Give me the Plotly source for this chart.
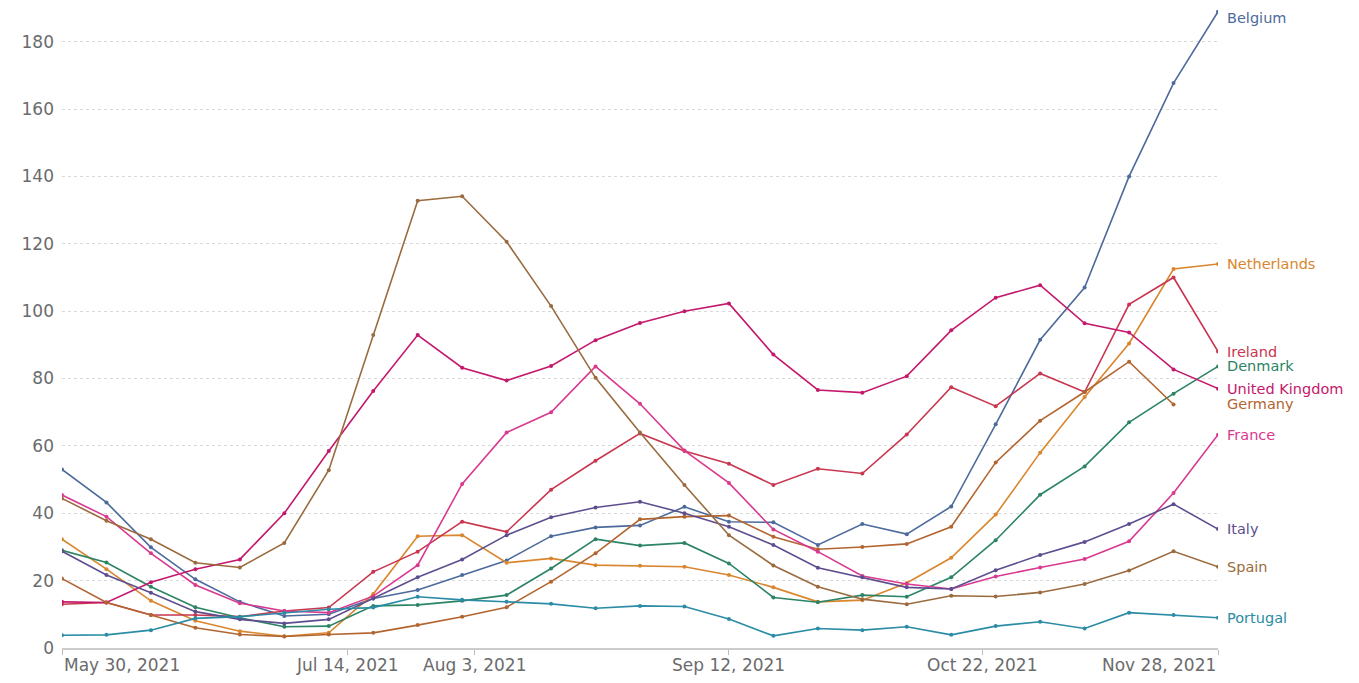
import pandas as pd
import plotly.graph_objects as go

dates = pd.date_range("2021-05-30", "2021-11-28", freq="7D")

belgium = [53, 43.2, 29.9, 20.4, 13.7, 9.5, 10.0, 14.7, 17.2, 21.7, 26.0, 33.2, 35.8, 36.4, 41.9, 37.5, 37.3, 30.6, 36.8, 33.8, 42.0, 66.4, 91.5, 107.0, 140.0, 167.7, 188.9]
netherlands = [32.3, 23.4, 14.0, 8.1, 5.0, 3.5, 4.5, 16.0, 33.2, 33.5, 25.3, 26.6, 24.6, 24.4, 24.1, 21.7, 18.0, 13.7, 14.2, 19.3, 26.8, 39.6, 58.0, 74.5, 90.4, 112.5, 114.0]
ireland = [13.0, 13.5, 9.8, 9.8, 9.3, 11.0, 12.0, 22.6, 28.6, 37.5, 34.5, 47.0, 55.6, 63.7, 58.5, 54.7, 48.4, 53.2, 51.8, 63.4, 77.4, 71.8, 81.5, 76.0, 102.0, 110.0, 88.0]
denmark = [29.0, 25.4, 18.2, 12.1, 9.0, 6.3, 6.5, 12.5, 12.8, 14.0, 15.7, 23.6, 32.3, 30.4, 31.2, 25.1, 15.0, 13.6, 15.7, 15.2, 21.0, 32.0, 45.5, 53.9, 67.0, 75.5, 83.6]
united_kingdom = [13.7, 13.5, 19.5, 23.4, 26.3, 40.0, 58.5, 76.3, 92.9, 83.2, 79.4, 83.7, 91.4, 96.5, 100.0, 102.3, 87.1, 76.6, 75.8, 80.7, 94.3, 104.0, 107.7, 96.4, 93.7, 82.7, 77.0]
germany = [20.6, 13.5, 9.8, 6.0, 4.0, 3.4, 4.0, 4.5, 6.8, 9.3, 12.1, 19.7, 28.1, 38.2, 39.0, 39.3, 33.0, 29.3, 30.0, 30.9, 36.0, 55.1, 67.5, 76.0, 85.0, 72.3, None]
france = [45.4, 39.0, 28.1, 18.7, 13.3, 11.0, 10.5, 15.4, 24.6, 48.7, 64.0, 70.0, 83.6, 72.5, 58.6, 49.0, 35.2, 28.6, 21.4, 19.0, 17.5, 21.2, 23.9, 26.4, 31.7, 46.0, 63.3]
italy = [28.7, 21.7, 16.4, 10.8, 8.5, 7.3, 8.5, 14.7, 21.0, 26.3, 33.5, 38.8, 41.7, 43.4, 40.0, 36.0, 30.6, 23.8, 21.0, 18.0, 17.5, 23.1, 27.6, 31.5, 36.8, 42.7, 35.3]
spain = [44.4, 37.8, 32.3, 25.3, 23.9, 31.2, 52.8, 92.9, 132.8, 134.1, 120.6, 101.5, 80.2, 64.0, 48.4, 33.5, 24.5, 18.2, 14.5, 13.0, 15.5, 15.3, 16.5, 19.0, 23.0, 28.7, 24.1]
portugal = [3.8, 3.9, 5.3, 8.8, 9.3, 10.5, 11.5, 12.0, 15.2, 14.3, 13.7, 13.1, 11.8, 12.5, 12.3, 8.6, 3.6, 5.8, 5.3, 6.3, 3.9, 6.5, 7.8, 5.8, 10.5, 9.8, 9.0]

countries = ["Belgium", "Netherlands", "Ireland", "Denmark", "United Kingdom",
             "Germany", "France", "Italy", "Spain", "Portugal"]
series = [belgium, netherlands, ireland, denmark, united_kingdom,
          germany, france, italy, spain, portugal]
colors = ["#4C6A9C", "#D9862E", "#C8364F", "#2C8465", "#C4186C",
          "#B3652F", "#D9398F", "#5E4E8F", "#9A6B3E", "#2A8CA5"]

tick_dates = ["2021-05-30", "2021-07-14", "2021-08-03", "2021-09-12", "2021-10-22", "2021-11-28"]
tick_labels = ["May 30, 2021", "Jul 14, 2021", "Aug 3, 2021", "Sep 12, 2021", "Oct 22, 2021", "Nov 28, 2021"]
y_ticks = [0, 20, 40, 60, 80, 100, 120, 140, 160, 180]

FONT = "DejaVu Sans, Lato, sans-serif"
label_shift = {"Belgium": -6}

fig = go.Figure()
for name, vals, col in zip(countries, series, colors):
    fig.add_trace(go.Scatter(
        x=dates, y=vals, name=name, mode="lines+markers",
        line=dict(color=col, width=1.6),
        marker=dict(color=col, size=4),
        connectgaps=False, showlegend=False,
    ))

annotations = []
last_date = dates[-1]
for name, vals, col in zip(countries, series, colors):
    last_val = [v for v in vals if v is not None][-1]
    annotations.append(dict(
        x=last_date, y=last_val, xref="x", yref="y", text=name,
        showarrow=False, xanchor="left", yanchor="middle", xshift=7,
        yshift=label_shift.get(name, 0),
        font=dict(family=FONT, size=14.5, color=col),
    ))

anchors = ["left"] + ["center"] * (len(tick_dates) - 2) + ["right"]
for d, lab, anc in zip(tick_dates, tick_labels, anchors):
    annotations.append(dict(
        x=d, y=0, xref="x", yref="paper", text=lab, showarrow=False,
        xanchor=anc, yanchor="top", yshift=-5,
        font=dict(family=FONT, size=17, color="#6b6b6b"),
    ))

fig.update_layout(
    width=1351, height=675,
    margin=dict(l=54, r=141, t=0, b=35),
    paper_bgcolor="white", plot_bgcolor="white",
    font=dict(family=FONT, color="#6b6b6b"),
    annotations=annotations,
    hovermode="x",
)
fig.update_xaxes(
    range=[dates[0], dates[-1]],
    tickvals=tick_dates, ticktext=[""] * len(tick_dates),
    ticks="outside", ticklen=5, tickcolor="#bbbbbb",
    showgrid=False, showline=True, linecolor="#cccccc", linewidth=1.5,
    zeroline=False,
)
fig.update_yaxes(
    range=[0, 190],
    tickvals=y_ticks,
    showgrid=True, gridcolor="#d9d9d9", griddash="dot", gridwidth=1,
    zeroline=False, showline=False,
    tickfont=dict(family=FONT, size=17, color="#6b6b6b"),
    ticklabelstandoff=7,
)

fig.write_html("out.html")
